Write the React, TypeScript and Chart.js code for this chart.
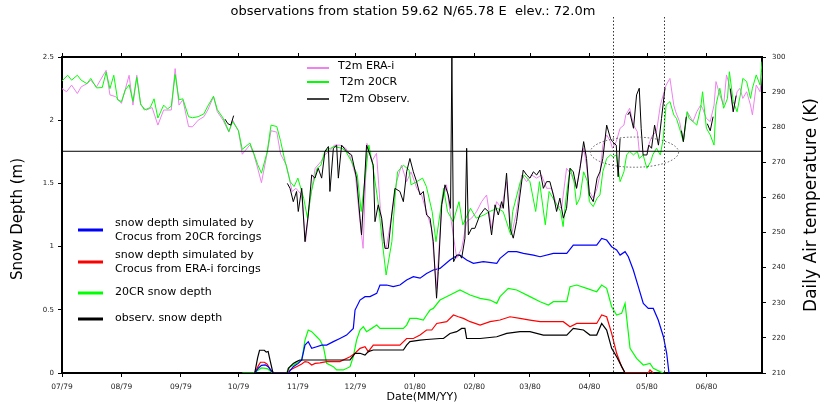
import React, { useEffect, useRef } from 'react';
import { Chart, registerables } from 'chart.js';

Chart.register(...registerables);

// ---------- data ----------
const monthDays = [0, 31, 62, 92, 123, 153, 184, 215, 244, 275, 305, 336];
const monthLabels = ['07/79', '08/79', '09/79', '10/79', '11/79', '12/79', '01/80', '02/80', '03/80', '04/80', '05/80', '06/80'];
const snowTicks = [0, 0.5, 1, 1.5, 2, 2.5];
const tempTicks = [210, 220, 230, 240, 250, 260, 270, 280, 290, 300];

const titleText = 'observations from station 59.62 N/65.78 E  elev.: 72.0m';
const freezingK = 273.15;
const markerDays = [287.4, 313.9];
const ellipseCenter = [298.5, 272.9];
const ellipseRadius = [23, 4.3];

// [day since 1 Jul 1979, value]
const t2mEra: [number, number][] = [
  [0,291],[2.4,290.1],[5,292],[8,289.6],[10,291.5],[13,292.4],[15,293.4],[18,291.5],[20,293.4],[23,296.2],[25,289.2],[28,288.7],[31,286.8],[35,294.8],[37,286.3],[39,294.8],[41,286.3],[44,284.9],[47,285.6],[50,280.6],[53,284.9],[57,284.9],[59,296.7],[61,286.3],[63,287.8],[66,280.2],[68,280.1],[71,282],[74,283],[76,284.9],[79,288.7],[81,284.4],[84,282],[87,278.6],[89,282],[92,279],[94,272.3],[98,275],[100,272.3],[102,268.4],[104,264.2],[107,272.7],[109,279],[112,278.6],[114,272.3],[117,269.2],[120,261.7],[122,262.6],[125,260.7],[127,247.4],[129,257.9],[132,268.3],[135,270.2],[137,272.1],[140,273.5],[142,274.9],[145,274.9],[148,274],[150,272.1],[153,266.4],[155,255],[157,245.5],[159,275.4],[161.5,270.2],[164,272.6],[166,256.9],[167.5,247.4],[169,245.5],[172,255],[174.5,264.5],[177,269.2],[179.7,264.5],[182,267.3],[185,262.6],[187.5,260.7],[190,256],[192.7,251.2],[195.3,234.1],[198,257.9],[200.5,263.6],[203,253.1],[205.8,242.7],[208.4,245.5],[211,253.1],[213.6,254.1],[216.2,256],[218.8,258.8],[221.4,260.7],[224,251.2],[226.6,258.8],[229.2,256.9],[231.8,264.5],[234.4,249.3],[237,256],[239.7,266.4],[242.3,264.5],[244.9,266.4],[247.5,265.5],[250,266.4],[252.7,262.6],[255.3,262.6],[257.9,257.9],[260.5,256.9],[263.1,268.3],[265.7,266.4],[268.3,262.6],[270,268.3],[272,274],[273.5,269.2],[275,261.7],[277,259.8],[279,262.6],[280.5,266.4],[282,274.9],[284,277.8],[286,275.9],[287,274],[289,275.9],[291,279.7],[293,280.6],[294,283.5],[296,285.4],[298,280.6],[300,278.7],[301,273.1],[303,273.1],[305,273.1],[306.5,275.9],[308,277.8],[310,278.7],[312,286.3],[313.5,289.2],[315,292],[317,293.9],[319,286.3],[320,284.4],[322,281.6],[324,275.9],[326,284.4],[327,283.5],[329,281.6],[331,284.4],[333,286.3],[334,285.4],[336,282.5],[338,281.6],[340,286.3],[341,293],[343,289.2],[345,286.3],[346.5,294.9],[348,292],[350,284.4],[352,290.1],[353.5,291.1],[355,288.2],[357,290.1],[359,286.3],[360,283.5],[362,292],[364,290.1],[365,295.8]
];

const t2m20cr: [number, number][] = [
  [0,293.2],[3,294.8],[5,293.4],[8,294.8],[10,293.4],[13,292.4],[15,293.9],[18,291.2],[21,291.3],[23,295.7],[25,291],[27,294.8],[29,287.8],[31,287.3],[33,290.6],[35,292.1],[37,287.4],[39,294.2],[41,286.7],[43,284.9],[46,285.6],[48,288.1],[50,282.6],[53,286.3],[55,285.2],[57,286],[59,295],[61,287.8],[63,288.1],[66,283],[68,282.7],[71,283],[74,283.8],[76,286],[79,288.8],[81,285],[84,282.6],[87,278.8],[89,281.6],[92,279],[94,273.7],[98,275.5],[100,272.6],[102,269.4],[104,266.9],[107,273],[109,280.6],[112,280.2],[114,276],[116,271],[119,264.5],[121,263.1],[123,265.5],[126,259.8],[128,254.1],[130,261.7],[133,268.3],[135,269.2],[137,273.1],[140,274],[142,274.5],[146,274],[148,273.1],[151,270.2],[154,266.4],[156,256],[160,274.9],[162,269.2],[165,257.9],[167,247.4],[169,237.9],[172,247.4],[174,262.6],[175,267.3],[178,269.2],[181,267.8],[182,263.6],[185,264.5],[188,265.5],[190,263.1],[193,256],[195,247.4],[199,262.6],[201,256],[204,253.1],[207,258.8],[209,252.2],[213,256.9],[216,254.1],[220,255],[223,256],[227,256.9],[230,256],[234,249.3],[235,256],[239,264.5],[241,266.4],[244,264.5],[247,256],[249,264.5],[252,252.2],[254,261.7],[258,257.9],[260,256],[261.3,251.7],[263,260.7],[265,268.3],[267,264.5],[268.3,257.9],[270,259.8],[272,267.3],[274,264.5],[275,258.8],[277,257.4],[279,259.8],[280.5,260.7],[282,267.3],[284,271.1],[286,272.1],[287.4,271.6],[289,272.1],[291,264.5],[293,267.3],[294.4,272.1],[296,273.1],[298,272.1],[300,273.1],[301,271.1],[303,272.1],[305,268.3],[307,270.2],[308,272.1],[310,274],[312,272.1],[313.5,276.8],[315,286.3],[317,287.3],[319,283.5],[320.4,282.5],[322,279.7],[324,275.9],[326,284.4],[327,282.5],[329,281.6],[331,280.6],[333,285.4],[334,290.1],[336,279.7],[338,277.8],[340,274.9],[341,286.3],[343,291.1],[345,285.4],[347,288.2],[348,295.8],[350,287.3],[352,284.4],[354,290.1],[355,293.9],[357,293],[359,288.2],[360,291.1],[362,294.9],[364,292],[365,298.7]
];

const t2mObs: [number, number | null][] = [
  [85,282.3],[86.5,281],[88,280.6],[89.5,283.3],[90,null],
  [117.5,264],[118.9,262.6],[120.6,258.8],[122.3,261.7],[123.2,256],[125,262.6],[126.7,247.4],[128.4,255],[130.2,266.4],[131.9,265.5],[133.6,268.3],[135.4,265.5],[137.1,273.1],[138.9,274.5],[139.7,261.7],[141.5,274],[143.2,274.9],[144.1,265.5],[145.8,274.9],[148.4,273.1],[151,272.1],[153.6,265.5],[155.4,254.1],[156.2,249.3],[158.8,274.9],[160.6,272.1],[162.3,269.2],[163.2,253.1],[164.9,257.9],[166.7,254.1],[168.4,245.5],[170.1,245.5],[171.9,255],[173.6,262.6],[176.2,261.7],[178,258.8],[179.7,267.3],[181.4,271.1],[183.2,267.3],[184.9,264.5],[186.7,260.7],[188.4,261.7],[190.1,255],[191.9,254.1],[193.6,247.4],[195.3,231.3],[196.2,238.9],[198,257.9],[199.7,263.6],[201.4,260.7],[202.6,256.9],[203.3,300],[204.2,241.7],[205.8,243.6],[207.5,243.6],[208.4,242.7],[210.1,248.4],[211,274],[211.9,249.3],[213.6,251.2],[215.3,251.2],[217.9,255],[220.5,256.9],[222.3,256],[224,249.3],[225.8,257.9],[227.5,255],[229.2,258.8],[230.1,256.9],[231.8,266.9],[233.6,251.2],[235.3,248.4],[237,253.1],[238.8,260.7],[240.5,267.8],[242.3,266.4],[244,265.5],[245.8,267.3],[247.5,266.4],[249.2,267.8],[251,262.6],[252.7,264.5],[254.4,264.5],[256.2,260.7],[257.9,256],[259.6,259.8],[261.4,254.1],[263.1,256.9],[264.9,268.3],[266.6,267.3],[268.3,262.6],[270.1,268.3],[272,275.9],[273.5,271.1],[275,260.7],[277,258.8],[279,265.5],[280.5,267.3],[282,271.1],[284,280.6],[286,276.8],[287,275.9],[289,274.9],[290,265.9],[291,276.8],[292,null],
  [295,283.5],[296,284.4],[298,279.7],[299.6,289.2],[301,291.1],[302,279.7],[303,272.1],[305,272.1],[306,274.9],[307.4,274],[309,280.6],[311,274.9],[312.6,282.5],[314.4,291.1],[315,null],
  [323,279],[324,275.9],[325.5,283],[326,null],[336.5,281],[338,279],[339.5,283],[340,null],[348.5,291],[350,284.4],[351.5,289],[352,null]
];

const snowCrocus20cr: [number, number][] = [
  [100.5,0],[102.5,0.04],[104,0.06],[106,0.065],[107.5,0.05],[109,0.02],[110.5,0],[118,0],[120.6,0.05],[123.2,0.076],[125,0.103],[126.7,0.221],[128.4,0.248],[130.2,0.195],[132.8,0.208],[135.4,0.221],[138,0.221],[141.5,0.248],[144.9,0.273],[148.4,0.3],[151.9,0.353],[152.8,0.498],[155.4,0.577],[158,0.604],[160.6,0.604],[164.1,0.63],[165.8,0.696],[169.3,0.696],[172.7,0.683],[176.2,0.696],[179.7,0.736],[183.2,0.762],[186.7,0.75],[190.1,0.788],[193.6,0.815],[197.1,0.828],[202.3,0.894],[204.9,0.92],[207.5,0.933],[211,0.894],[214.5,0.868],[219.7,0.881],[226.7,0.868],[228.4,0.907],[232.7,0.96],[237.1,0.96],[240.6,0.947],[245.8,0.933],[249.3,0.92],[256.2,0.947],[263.2,0.947],[266.6,1.012],[271.9,1.012],[278.8,1.012],[281.4,1.065],[284,1.052],[286.6,0.999],[289.2,0.973],[291,0.933],[293.6,0.96],[295.3,0.92],[297.9,0.815],[300.5,0.683],[303.1,0.551],[305.7,0.511],[308.3,0.511],[310.9,0.419],[313.6,0.287],[315.3,0.156],[316.5,0]
];

const snowCrocusEra: [number, number][] = [
  [100.5,0],[102.5,0.06],[103.5,0.085],[105.5,0.085],[107,0.07],[108.5,0.03],[110,0],[118,0],[118.9,0.024],[122.3,0.05],[125,0.071],[126.7,0.09],[128.4,0.085],[130.2,0.063],[132,0.076],[134.5,0.08],[138,0.09],[144.9,0.09],[150.2,0.129],[152.8,0.156],[155.4,0.195],[158,0.208],[159.7,0.169],[162.3,0.221],[176.2,0.221],[179.7,0.273],[183.2,0.273],[186.7,0.3],[190.1,0.34],[192.8,0.34],[195.4,0.392],[200.6,0.406],[204.1,0.459],[206.7,0.445],[209.3,0.432],[212.8,0.406],[218,0.379],[223.2,0.406],[228.4,0.419],[233.6,0.445],[238.8,0.432],[244,0.419],[249.3,0.406],[261.4,0.406],[264.9,0.366],[268.4,0.392],[278.8,0.392],[281.4,0.459],[284,0.445],[286.6,0.313],[289.2,0.156],[291.8,0.05],[293.6,0],[305.7,0],[306.6,0.024],[308.3,0]
];

const snow20cr: [number, number][] = [
  [94,0],[100,0],[102,0.02],[104,0.04],[107,0.035],[109,0.01],[110.5,0],[117,0],[118.9,0.05],[122.3,0.076],[125,0.103],[126.7,0.26],[128.4,0.34],[130.2,0.327],[132.8,0.287],[134.5,0.26],[136.3,0.208],[138,0.076],[141.5,0.05],[143.2,0.024],[146.7,0.024],[150.2,0.05],[151.9,0.129],[153.6,0.26],[155.4,0.34],[157.1,0.366],[158.8,0.327],[161.5,0.353],[164.1,0.379],[165.8,0.353],[178,0.353],[179.7,0.379],[181.4,0.432],[184.9,0.432],[188.4,0.419],[190.1,0.459],[191.9,0.498],[193.6,0.511],[197.1,0.577],[202.3,0.617],[207.5,0.657],[212.8,0.617],[218,0.59],[223.2,0.577],[226.7,0.551],[228.4,0.604],[232.7,0.67],[237.1,0.657],[244,0.604],[249.3,0.564],[253.6,0.538],[256.2,0.564],[263.2,0.564],[264.9,0.683],[268.4,0.696],[273.6,0.67],[278.8,0.643],[281.4,0.696],[284,0.67],[286.6,0.524],[289.2,0.459],[291.8,0.472],[293.6,0.551],[296.2,0.195],[299.6,0.116],[303.1,0.063],[306.6,0.076],[308.3,0.037],[311.8,0.011],[313.6,0]
];

const snowObs: [number, number][] = [
  [100.5,0],[102,0.12],[103,0.18],[105.5,0.18],[106.5,0.165],[107.5,0.17],[108.5,0.1],[110,0],[117.5,0],[118,0.037],[118.9,0.05],[120.6,0.076],[122.3,0.09],[124,0.103],[150.2,0.103],[152.8,0.156],[155.4,0.156],[158,0.142],[159.7,0.169],[162.3,0.182],[178,0.182],[179.7,0.221],[181.4,0.248],[186.7,0.26],[190.1,0.265],[197.1,0.273],[198.9,0.273],[202.3,0.313],[205.8,0.327],[208.4,0.353],[210.1,0.353],[211,0.273],[218,0.273],[226.7,0.287],[231.9,0.313],[238.8,0.327],[244,0.327],[251,0.3],[263.2,0.3],[266.6,0.353],[271.9,0.34],[275.3,0.3],[278.8,0.3],[281.4,0.392],[284,0.34],[286.6,0.195],[289.2,0.129],[291,0.076],[293.6,0]
];

// ---------- component ----------
const FONT = 'DejaVu Sans';

const toXY = (arr: [number, number | null][]) => arr.map(([x, y]) => ({ x, y }));

export default function App() {
  const ref = useRef<HTMLCanvasElement | null>(null);

  useEffect(() => {
    document.body.style.margin = '0';
    const canvas = ref.current;
    if (!canvas) return;

    const overlay = {
      id: 'overlay',
      afterDraw(chart: any) {
        const { ctx, chartArea: ca, scales } = chart;
        const xs = scales.x;
        const yT = scales.yTemp;
        ctx.save();

        // top frame and top ticks
        ctx.strokeStyle = '#000';
        ctx.lineWidth = 2;
        ctx.beginPath();
        ctx.moveTo(ca.left - 1, ca.top);
        ctx.lineTo(ca.right + 1, ca.top);
        ctx.stroke();
        ctx.lineWidth = 1;
        monthDays.forEach((d) => {
          const px = Math.round(xs.getPixelForValue(d)) + 0.5;
          ctx.beginPath();
          ctx.moveTo(px, ca.top);
          ctx.lineTo(px, ca.top - 4);
          ctx.stroke();
        });

        // freezing line
        const yf = yT.getPixelForValue(freezingK);
        ctx.lineWidth = 1;
        ctx.beginPath();
        ctx.moveTo(ca.left, yf);
        ctx.lineTo(ca.right, yf);
        ctx.stroke();

        // dotted markers
        ctx.setLineDash([1.5, 2]);
        ctx.strokeStyle = '#333';
        markerDays.forEach((d) => {
          const px = Math.round(xs.getPixelForValue(d)) + 0.5;
          ctx.beginPath();
          ctx.moveTo(px, 17);
          ctx.lineTo(px, ca.bottom);
          ctx.stroke();
        });
        // ellipse
        const cx = xs.getPixelForValue(ellipseCenter[0]);
        const cy = yT.getPixelForValue(ellipseCenter[1]);
        const rx = xs.getPixelForValue(ellipseCenter[0] + ellipseRadius[0]) - cx;
        const ry = cy - yT.getPixelForValue(ellipseCenter[1] + ellipseRadius[1]);
        ctx.strokeStyle = '#555';
        ctx.beginPath();
        ctx.ellipse(cx, cy, rx, ry, 0, 0, Math.PI * 2);
        ctx.stroke();
        ctx.setLineDash([]);

        // title
        ctx.fillStyle = '#000';
        ctx.textAlign = 'center';
        ctx.textBaseline = 'middle';
        ctx.font = `13px ${FONT}`;
        ctx.fillText(titleText, 413, 12);

        // axis titles
        ctx.font = `11px ${FONT}`;
        ctx.fillText('Date(MM/YY)', 422, 397);
        ctx.save();
        ctx.translate(18, 219);
        ctx.rotate(-Math.PI / 2);
        ctx.font = `15px ${FONT}`;
        ctx.fillText('Snow Depth (m)', 0, 0);
        ctx.restore();
        ctx.save();
        ctx.translate(812, 205);
        ctx.rotate(-Math.PI / 2);
        ctx.font = `17px ${FONT}`;
        ctx.fillText('Daily Air temperature (K)', 0, 0);
        ctx.restore();

        // temperature legend
        ctx.textAlign = 'left';
        ctx.font = `11px ${FONT}`;
        const tLeg: [string, string, number, number, number][] = [
          ['T2m ERA-i', '#ee82ee', 68, 66, 338],
          ['T2m 20CR', '#00ff00', 82, 82, 340],
          ['T2m Observ.', '#000000', 99, 99, 340],
        ];
        tLeg.forEach(([label, color, ly, ty, tx]) => {
          ctx.strokeStyle = color;
          ctx.lineWidth = color === '#000000' ? 1.5 : 2;
          ctx.beginPath();
          ctx.moveTo(307, ly);
          ctx.lineTo(329, ly);
          ctx.stroke();
          ctx.fillStyle = '#000';
          ctx.fillText(label, tx, ty);
        });

        // snow legend
        const sLeg: [string[], string, number, number[]][] = [
          [['snow depth simulated by', 'Crocus from 20CR forcings'], '#0000ff', 230, [223, 237]],
          [['snow depth simulated by', 'Crocus from ERA-i forcings'], '#ff0000', 262, [255, 269]],
          [['20CR snow depth'], '#00ff00', 293, [292]],
          [['observ. snow depth'], '#000000', 319, [318]],
        ];
        sLeg.forEach(([lines, color, ly, tys]) => {
          ctx.strokeStyle = color;
          ctx.lineWidth = 3;
          ctx.beginPath();
          ctx.moveTo(78, ly);
          ctx.lineTo(103, ly);
          ctx.stroke();
          ctx.fillStyle = '#000';
          lines.forEach((t, i) => ctx.fillText(t, 115, tys[i]));
        });

        ctx.restore();
      },
    };

    const mk = (label: string, arr: any, color: string, axis: string, width: number, order: number) => ({
      label,
      data: toXY(arr),
      borderColor: color,
      backgroundColor: color,
      borderWidth: width,
      pointRadius: 0,
      tension: 0,
      spanGaps: false,
      yAxisID: axis,
      order,
      fill: false,
    });

    const chart = new Chart(canvas, {
      type: 'line',
      data: {
        datasets: [
          mk('T2m Observ.', t2mObs, '#000000', 'yTemp', 1, 1),
          mk('T2m 20CR', t2m20cr, '#00ff00', 'yTemp', 1, 2),
          mk('T2m ERA-i', t2mEra, '#ee82ee', 'yTemp', 1, 3),
          mk('observ. snow depth', snowObs, '#000000', 'ySnow', 1.2, 4),
          mk('Crocus 20CR', snowCrocus20cr, '#0000ff', 'ySnow', 1.2, 5),
          mk('Crocus ERA-i', snowCrocusEra, '#ff0000', 'ySnow', 1.2, 6),
          mk('20CR snow depth', snow20cr, '#00ff00', 'ySnow', 1.2, 7),
        ],
      },
      options: {
        responsive: false,
        maintainAspectRatio: false,
        animation: false,
        layout: { padding: { top: 57, left: 0, right: 0, bottom: 0 } },
        plugins: {
          legend: { display: false },
          tooltip: { enabled: false },
          title: { display: false },
        },
        scales: {
          x: {
            type: 'linear',
            min: 0,
            max: 365,
            afterBuildTicks: (s: any) => {
              s.ticks = monthDays.map((v) => ({ value: v }));
            },
            afterFit: (s: any) => {
              s.height = 31;
            },
            ticks: {
              autoSkip: false,
              maxRotation: 0,
              padding: 6,
              color: '#222',
              font: { family: FONT, size: 7.5 },
              callback: (v: any) => monthLabels[monthDays.indexOf(Number(v))] ?? '',
            },
            grid: { drawOnChartArea: false, tickLength: 4, tickColor: '#000', tickWidth: 1 },
            border: { color: '#000', width: 2 },
          },
          ySnow: {
            type: 'linear',
            position: 'left',
            min: 0,
            max: 2.5,
            afterBuildTicks: (s: any) => {
              s.ticks = snowTicks.map((v) => ({ value: v }));
            },
            afterFit: (s: any) => {
              s.width = 62;
            },
            ticks: {
              padding: 4,
              color: '#222',
              font: { family: FONT, size: 7 },
              callback: (v: any) => String(v),
            },
            grid: { drawOnChartArea: false, tickLength: 4, tickColor: '#000', tickWidth: 1 },
            border: { color: '#000', width: 2 },
          },
          yTemp: {
            type: 'linear',
            position: 'right',
            min: 210,
            max: 300,
            afterBuildTicks: (s: any) => {
              s.ticks = tempTicks.map((v) => ({ value: v }));
            },
            afterFit: (s: any) => {
              s.width = 62;
            },
            ticks: {
              padding: 6,
              color: '#222',
              font: { family: FONT, size: 7 },
              callback: (v: any) => String(v),
            },
            grid: { drawOnChartArea: false, tickLength: 4, tickColor: '#000', tickWidth: 1 },
            border: { color: '#000', width: 2 },
          },
        },
      },
      plugins: [overlay],
    });

    return () => chart.destroy();
  }, []);

  return (
    <div style={{ width: 824, height: 404 }}>
      <canvas ref={ref} width={824} height={404} style={{ display: 'block', width: 824, height: 404 }} />
    </div>
  );
}
